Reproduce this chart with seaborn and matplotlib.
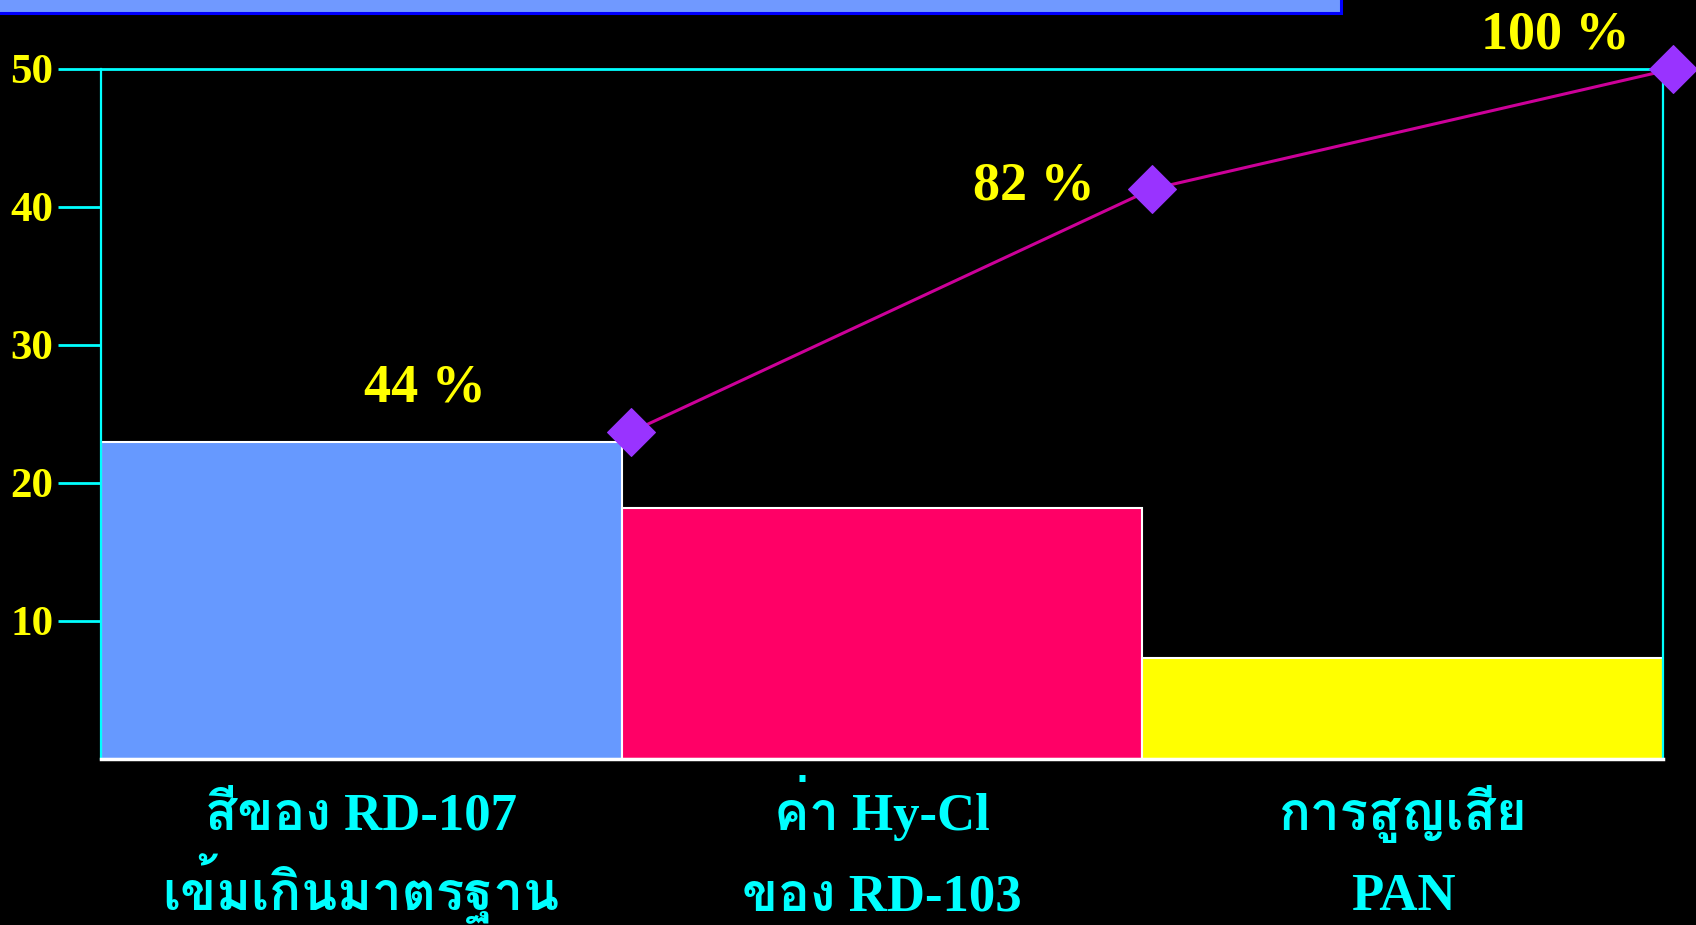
import numpy as np
import pandas as pd
import matplotlib
matplotlib.use("Agg")
import matplotlib.pyplot as plt
from matplotlib.patches import Rectangle
from matplotlib import font_manager
from matplotlib.ft2font import FT2Font
import matplotlib.transforms as mtrans
import seaborn as sns

# ---------------- data ----------------
categories = ["สีของ RD-107\nเข้มเกินมาตรฐาน", "ค่า Hy-Cl\nของ RD-103", "การสูญเสีย\nPAN"]
bar_values = [23.0, 18.2, 7.3]
bar_colors = ["#6699FF", "#FF0066", "#FFFF00"]
cum_values = [23.7, 41.3, 50.0]          # cumulative line, in left-axis units
cum_labels = ["44 %", "82 %", "100 %"]
y_ticks = [10, 20, 30, 40, 50]

# ---------------- fonts ----------------
def find_thai_family():
    for f in font_manager.fontManager.ttflist:
        try:
            if 0x0E2A in FT2Font(f.fname).get_charmap():
                return f.name
        except Exception:
            pass
    return None

thai = find_thai_family()
serif_fam = ["Liberation Serif"] + ([thai] if thai else []) + ["DejaVu Sans"]

sns.set_theme(style="dark")
plt.rcParams["font.family"] = serif_fam

fig = plt.figure(figsize=(16.96, 9.25), dpi=100, facecolor="black")
ax = fig.add_axes([0.0593, 0.1795, 0.9215, 0.746])
ax.set_facecolor("black")

df = pd.DataFrame({"cat": categories, "val": bar_values})
sns.barplot(data=df, x="cat", y="val", hue="cat", palette=bar_colors,
            width=1.0, edgecolor="white", linewidth=1.5, legend=False,
            saturation=1, ax=ax)

ax.set_xlim(-0.5, 2.5)
ax.set_ylim(0, 50)

# cumulative line at the right edge of each bar
edges = np.arange(len(categories)) + 0.5
sns.lineplot(x=edges, y=cum_values, color="#CC0099", linewidth=2.2,
             marker="D", markersize=24, markerfacecolor="#9933FF",
             markeredgecolor="#9933FF", ax=ax, zorder=5)
shift = mtrans.ScaledTranslation(7 / 72, 0, fig.dpi_scale_trans)
for ln in ax.lines:
    ln.set_clip_on(False)
    ln.set_transform(ax.transData + shift)

offsets = [(-141.5, 31.5), (-78.5, 1.5), (-78, 24)]
for x, y, lab, off in zip(edges, cum_values, cum_labels, offsets):
    ax.annotate(lab, (x, y), xytext=off, textcoords="offset points",
                ha="center", va="center", color="#FFFF00", fontsize=39,
                fontweight="bold", family=serif_fam, annotation_clip=False)

# axes styling
ax.set_yticks(y_ticks)
ax.set_yticklabels([str(t) for t in y_ticks])
ax.tick_params(axis="y", direction="out", length=31, width=2, color="#00FFFF",
               labelcolor="#FFFF00", labelsize=31, pad=3, left=True)
for t in ax.get_yticklabels():
    t.set_fontweight("bold")

# category labels: two lines each, placed under the bars
ax.tick_params(axis="x", length=0, labelbottom=False)
trans = mtrans.blended_transform_factory(ax.transData, ax.transAxes)
line_y = [-0.1029, -0.219]
for i, cat in enumerate(categories):
    for j, part in enumerate(cat.split("\n")):
        ax.text(i, line_y[j], part, transform=trans, ha="center", va="baseline",
                color="#00FFFF", fontsize=38, fontweight="bold",
                family=serif_fam, clip_on=False)
ax.set_xlabel("")
ax.set_ylabel("")
ax.grid(False)

for side in ["left", "top", "right"]:
    ax.spines[side].set_visible(True)
    ax.spines[side].set_color("#00FFFF")
    ax.spines[side].set_linewidth(1.6)
ax.spines["top"].set_linewidth(2)
ax.spines["bottom"].set_visible(True)
ax.spines["bottom"].set_color("white")
ax.spines["bottom"].set_linewidth(2.5)

# decorative title bar at the top
fig.patches.append(Rectangle((-0.01, 1 - 13 / 925), 0.01 + 1341 / 1696, 0.05,
                             transform=fig.transFigure, facecolor="#7099FF",
                             edgecolor="#0000FF", linewidth=2.2, zorder=10))

fig.savefig("out.png", dpi=100, facecolor="black")
